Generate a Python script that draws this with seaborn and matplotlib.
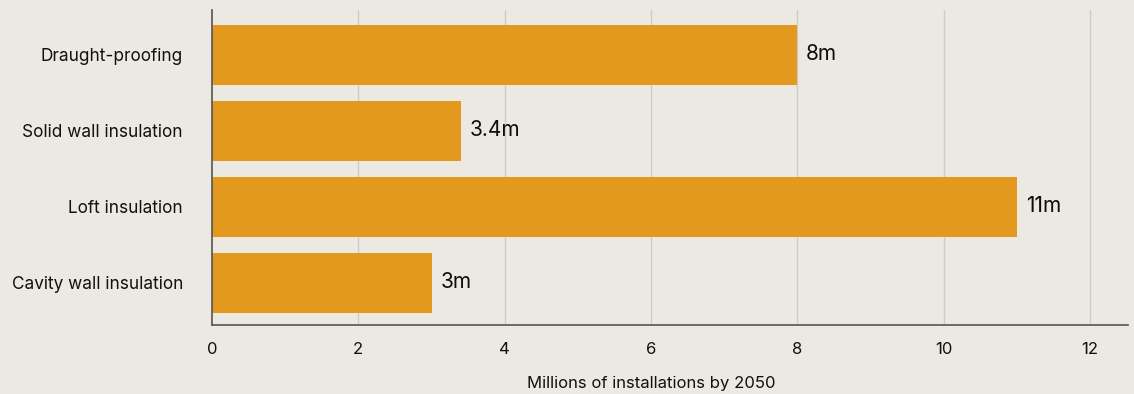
import matplotlib
matplotlib.use("Agg")
import matplotlib.pyplot as plt
import seaborn as sns
import pandas as pd

# Insulation measures and millions of installations by 2050
measures = ["Draught-proofing", "Solid wall insulation", "Loft insulation", "Cavity wall insulation"]
installations = [8, 3.4, 11, 3]
value_labels = ["8m", "3.4m", "11m", "3m"]
x_ticks = [0, 2, 4, 6, 8, 10, 12]

BG = "#ECE8E2"
BAR = "#E2991E"
X_MAX = 12.52

sns.set_theme(style="white")
plt.rcParams["font.family"] = ["Inter", "DejaVu Sans"]

df = pd.DataFrame({"measure": measures, "installations": installations})

fig = plt.figure(figsize=(11.34, 3.94), dpi=100, facecolor=BG)
ax = fig.add_axes([0.187, 0.175, 0.8077, 0.80])
ax.set_facecolor(BG)

sns.barplot(data=df, x="installations", y="measure", orient="h", color=BAR,
            width=0.79, saturation=1, edgecolor="none", linewidth=0, ax=ax, zorder=3)

ax.set_xlim(0, X_MAX)
ax.set_ylim(3.56, -0.59)
ax.set_xticks(x_ticks)
ax.set_xticklabels([str(t) for t in x_ticks])
for t in x_ticks[1:]:
    ax.axvline(t, color="#CFCCC8", lw=1.0, zorder=1)

for sp in ["top", "right"]:
    ax.spines[sp].set_visible(False)
for sp in ["left", "bottom"]:
    ax.spines[sp].set_color("#555555")
    ax.spines[sp].set_linewidth(1.2)
    ax.spines[sp].set_zorder(4)

ax.tick_params(axis="both", length=0, colors="#111111", labelsize=12)
ax.tick_params(axis="y", pad=21, labelsize=12.4)
ax.tick_params(axis="x", pad=12)
ax.set_ylabel("")
ax.set_xlabel("Millions of installations by 2050", fontsize=12, color="#111111", labelpad=14)
ax.xaxis.label.set_x(6 / X_MAX)

for i, (v, lab) in enumerate(zip(installations, value_labels)):
    ax.text(v + 0.12, i - 0.005, lab, va="center", ha="left", fontsize=15, color="#0d0d0d", zorder=5)

fig.savefig("out.png", dpi=100, facecolor=BG)
